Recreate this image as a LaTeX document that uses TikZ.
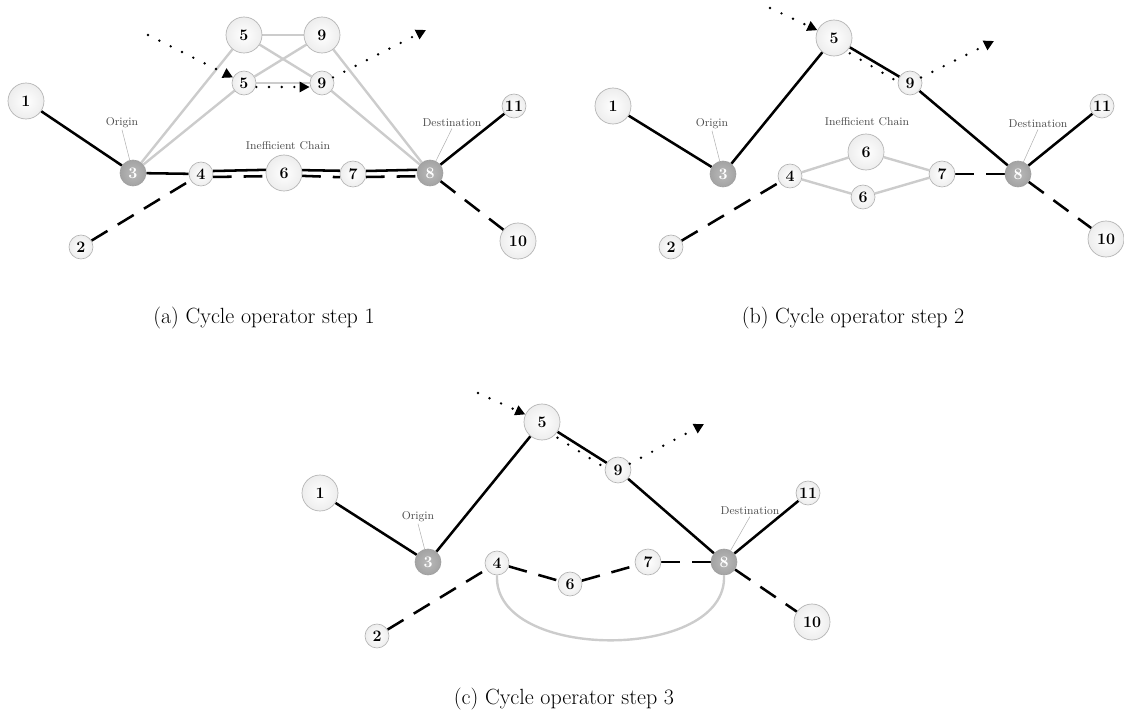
\documentclass[tikz,border=0pt]{standalone}
\usetikzlibrary{arrows.meta}
\pgfdeclarelayer{bg}
\pgfsetlayers{bg,main}
\tikzset{
  nd/.style={circle, draw=gray!60, line width=0.5pt, inner sep=0pt,
    shading=radial, inner color=white, outer color=gray!14,
    font=\bfseries\fontsize{12}{14}\selectfont},
  bignd/.style={nd, minimum size=27pt},
  smallnd/.style={nd, minimum size=18pt},
  midnd/.style={nd, minimum size=19.5pt},
  hub/.style={nd, minimum size=19.5pt, inner color=gray!55, outer color=gray!72, draw=gray!75, text=white},
  lbl/.style={font=\fontsize{8.5}{10}\selectfont, text=black!70, inner sep=1pt},
  lead/.style={draw=gray!60, line width=0.4pt},
  sol/.style={line width=1.9pt, black},
  dsh/.style={line width=1.9pt, black, dash pattern=on 14pt off 9pt},
  gry/.style={line width=1.8pt, gray!40},
  dots/.style={line width=2pt, line cap=round, dash pattern=on 0pt off 9.5pt},
  arr/.style={-{Triangle[length=7.5pt,width=7.5pt]}},
  captxt/.style={font=\fontsize{16.5}{19}\selectfont, inner sep=0pt}
}
\begin{document}
\begin{tikzpicture}[x=0.75pt, y=-0.75pt]
\useasboundingbox (0,0) rectangle (1124,720);

% ---------------- panel (a) ----------------
\node[bignd] (a1) at (26,101) {1};
\node[hub] (a3) at (133,173) {3};
\node[smallnd] (a2) at (81,247) {2};
\node[smallnd] (a4) at (201,174) {4};
\node[bignd] (a6) at (284,173) {6};
\node[midnd] (a7) at (353,174) {7};
\node[hub] (a8) at (430,173) {8};
\node[bignd] (a5t) at (244,35) {5};
\node[smallnd] (a5b) at (244,83) {5};
\node[bignd] (a9t) at (322,35) {9};
\node[smallnd] (a9b) at (322,83) {9};
\node[smallnd] (a11) at (514,106) {11};
\node[bignd] (a10) at (518,241) {10};
\node[lbl] (aor) at (122,123) {Origin};
\node[lbl] (ade) at (452,123) {Destination};
\node[lbl] (ach) at (288,146) {Inefficient Chain};
\coordinate (as) at (148,35);
\coordinate (ae) at (426,30);

\begin{pgfonlayer}{bg}
\draw[lead] (aor.south) -- (a3);
\draw[lead] (ade.south) -- (a8);
\draw[gry] (a3) -- (a5t);
\draw[gry] (a3) -- (a5b);
\draw[gry] (a5t) -- (a9t);
\draw[gry] (a5t) -- (a9b);
\draw[gry] (a5b) -- (a9t);
\draw[gry] (a5b) -- (a9b);
\draw[gry] (a9t) -- (a8);
\draw[gry] (a9b) -- (a8);
\draw[sol] (a1) -- (a3);
\draw[sol] (a3) -- (a4);
\draw[sol] (a4.14.5) -- (a6.170.4);
\draw[sol] (a6.9.6) -- (a7.166.7);
\draw[sol] (a7.13.3) -- (a8.166.7);
\draw[dsh] (a4.-14.5) -- (a6.-170.4);
\draw[dsh] (a6.-9.6) -- (a7.-166.7);
\draw[dsh] (a7.-13.3) -- (a8.-166.7);
\draw[dsh] (a2) -- (a4);
\draw[sol] (a8) -- (a11);
\draw[dsh] (a8) -- (a10);
\end{pgfonlayer}
\draw[dots, arr] (as) -- (a5b);
\draw[dots, arr] ([yshift=-3pt]a5b.east) -- ([yshift=-3pt]a9b.west);
\draw[dots, arr] (a9b) -- (ae);

% ---------------- panel (b) ----------------
\node[bignd] (b1) at (613,106) {1};
\node[hub] (b3) at (723,174) {3};
\node[smallnd] (b2) at (671,247) {2};
\node[smallnd] (b4) at (790,176) {4};
\node[bignd] (b5) at (834,38) {5};
\node[smallnd] (b9) at (910,83) {9};
\node[smallnd] (b11) at (1102,106) {11};
\node[hub] (b8) at (1018,174) {8};
\node[midnd] (b7) at (942,174) {7};
\node[bignd] (b10) at (1106,239) {10};
\node[bignd] (b6t) at (866,152) {6};
\node[smallnd] (b6b) at (863,197) {6};
\node[lbl] (bor) at (712,124) {Origin};
\node[lbl] (bch) at (867,122) {Inefficient Chain};
\node[lbl] (bde) at (1038,124) {Destination};
\coordinate (bs) at (770,8);
\coordinate (be) at (994,41);

\begin{pgfonlayer}{bg}
\draw[lead] (bor.south) -- (b3);
\draw[lead] (bde.south) -- (b8);
\draw[gry] (b4) -- (b6t);
\draw[gry] (b4) -- (b6b);
\draw[gry] (b6t) -- (b7);
\draw[gry] (b6b) -- (b7);
\draw[sol] (b1) -- (b3);
\draw[sol] (b3) -- (b5);
\draw[sol] (b5) -- (b9);
\draw[sol] (b9) -- (b8);
\draw[sol] (b8) -- (b11);
\draw[dsh] (b2) -- (b4);
\draw[dsh] (b7) -- (b8);
\draw[dsh] (b8) -- (b10);
\end{pgfonlayer}
\draw[dots, arr] (bs) -- (b5);
\draw[dots, transform canvas={yshift=-4.5pt}] (b5) -- (b9);
\draw[dots, arr] (b9) -- (be);

% ---------------- panel (c) ----------------
\node[bignd] (c1) at (320,493) {1};
\node[hub] (c3) at (428,562) {3};
\node[smallnd] (c2) at (377,636) {2};
\node[smallnd] (c4) at (497,563) {4};
\node[bignd] (c5) at (542,422) {5};
\node[smallnd] (c6) at (570,584) {6};
\node[midnd] (c7) at (648,562) {7};
\node[hub] (c8) at (724,562) {8};
\node[midnd] (c9) at (618,470) {9};
\node[smallnd] (c11) at (808,493) {11};
\node[bignd] (c10) at (812,622) {10};
\node[lbl] (cor) at (418,517) {Origin};
\node[lbl] (cde) at (750,511) {Destination};
\coordinate (cs) at (478,393);
\coordinate (ce) at (704,424);

\begin{pgfonlayer}{bg}
\draw[lead] (cor.south) -- (c3);
\draw[lead] (cde.south) -- (c8);
\draw[gry] (c4.south) .. controls (493,662) and (728,662) .. (c8.south);
\draw[sol] (c1) -- (c3);
\draw[sol] (c3) -- (c5);
\draw[sol] (c5) -- (c9);
\draw[sol] (c9) -- (c8);
\draw[sol] (c8) -- (c11);
\draw[dsh] (c2) -- (c4);
\draw[dsh] (c4) -- (c6);
\draw[dsh] (c6) -- (c7);
\draw[dsh] (c7) -- (c8);
\draw[dsh] (c8) -- (c10);
\end{pgfonlayer}
\draw[dots, arr] (cs) -- (c5);
\draw[dots, transform canvas={yshift=-4.5pt}] (c5) -- (c9);
\draw[dots, arr] (c9) -- (ce);

% ---------------- captions ----------------
\node[captxt] (capa) at (264,318) {(a) Cycle operator step 1};
\node[captxt] (capb) at (853,318) {(b) Cycle operator step 2};
\node[captxt] (capc) at (564,699) {(c) Cycle operator step 3};
\end{tikzpicture}
\end{document}
